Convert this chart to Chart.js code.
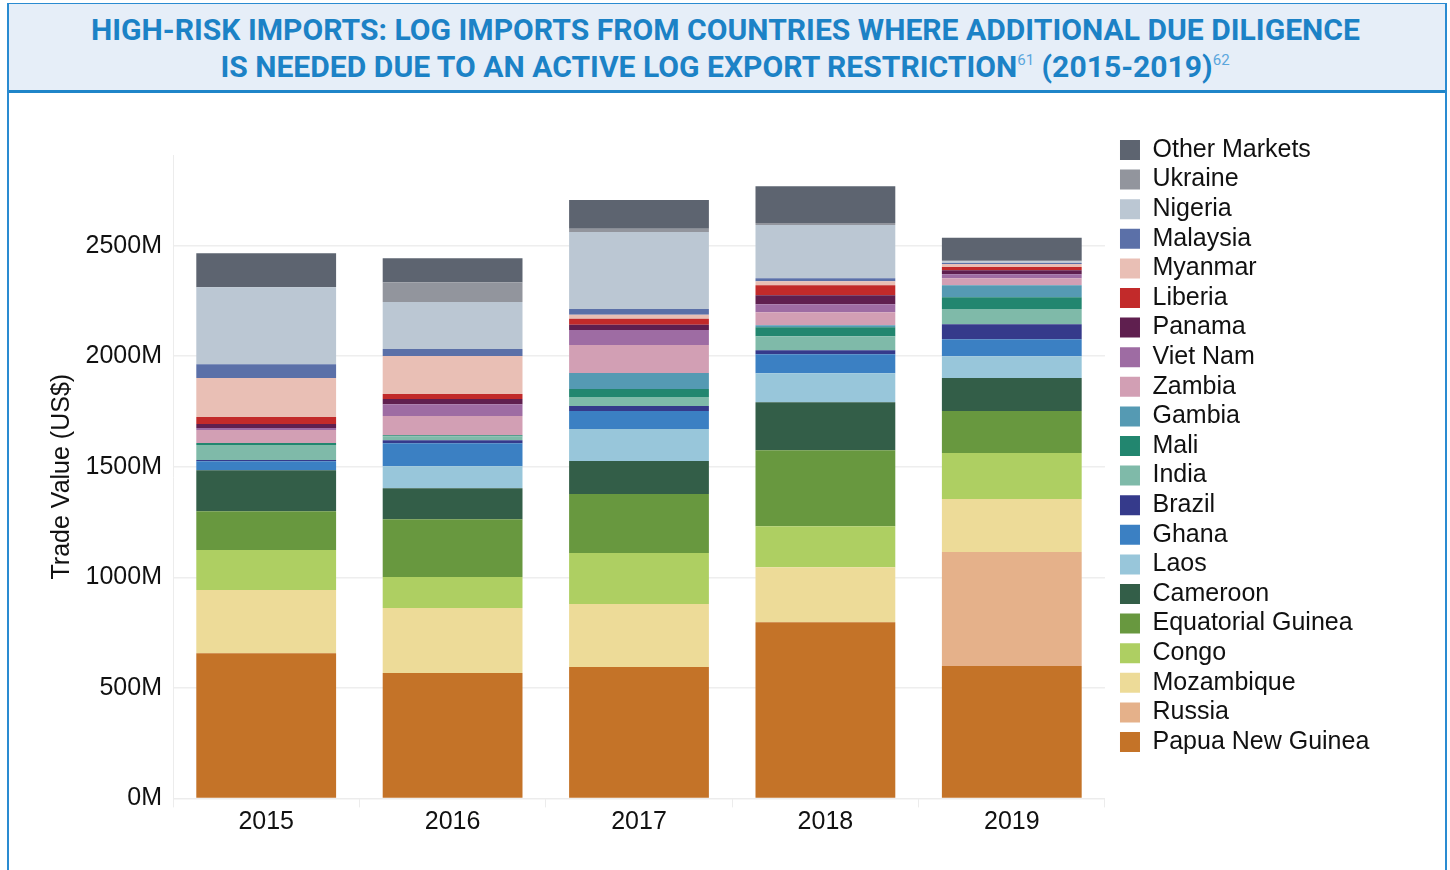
<!DOCTYPE html>
<html>
<head>
<meta charset="utf-8">
<title>High-risk imports</title>
<script src="https://cdn.jsdelivr.net/npm/chart.js@4.4.1/dist/chart.umd.min.js"></script>
<style>
  html, body { margin: 0; padding: 0; background: #fff; }
  body { width: 1450px; height: 870px; position: relative; overflow: hidden; font-family: 'Liberation Sans', Arial, sans-serif; }
  .frame { position: absolute; left: 7px; top: 3px; width: 1436px; height: 880px; border: 2px solid #2a8bd1; border-bottom: none; }
  .banner { position: absolute; left: 9px; top: 4px; width: 1436px; height: 86px; background: #e6eef8; border-bottom: 3px solid #1f85c9; }
  .ttl { position: absolute; left: 0; width: 1450px; text-align: center; font-family: Roboto, sans-serif; font-weight: 700; font-size: 30px; line-height: 36px; color: #1c82c6; white-space: nowrap; }
  .ttl .t { display: inline-block; transform-origin: 50% 50%; }
  .ttl sup { font-size: 15px; font-weight: 400; color: #5ba6dd; vertical-align: 12px; line-height: 0; }
  #wrap { position: absolute; left: 10px; top: 92px; width: 1434px; height: 778px; }
</style>
</head>
<body>
<div class="frame"></div>
<div class="banner"></div>
<div class="ttl" style="top:12px"><span class="t" id="t1">HIGH-RISK IMPORTS: LOG IMPORTS FROM COUNTRIES WHERE ADDITIONAL DUE DILIGENCE</span></div>
<div class="ttl" style="top:49px"><span class="t" id="t2">IS NEEDED DUE TO AN ACTIVE LOG EXPORT RESTRICTION<sup>61</sup> (2015-2019)<sup>62</sup></span></div>
<div id="wrap"><canvas id="chart" width="1434" height="778"></canvas></div>

<script>
// --- Data (US$ millions) ---
const years = ['2015', '2016', '2017', '2018', '2019'];
const yTicks = [0, 500, 1000, 1500, 2000, 2500];
const yMax = 2910;

// stack order: bottom -> top
const papuaNewGuinea = [657, 567, 594, 797, 599];
const russia = [0, 0, 0, 0, 515];
const mozambique = [285, 294, 285, 249, 240];
const congo = [181, 140, 231, 185, 208];
const equatorialGuinea = [176, 262, 267, 344, 190];
const cameroon = [185, 140, 149, 217, 149];
const laos = [0, 99, 145, 131, 99];
const ghana = [41, 104, 81, 86, 77];
const brazil = [5, 14, 23, 18, 68];
const india = [68, 18, 41, 63, 68];
const mali = [9, 5, 36, 41, 54];
const gambia = [0, 0, 72, 9, 54];
const zambia = [59, 86, 127, 59, 32];
const vietNam = [9, 54, 68, 36, 18];
const panama = [18, 23, 23, 41, 18];
const liberia = [32, 23, 27, 45, 14];
const myanmar = [176, 172, 18, 18, 14];
const malaysia = [63, 32, 27, 14, 5];
const nigeria = [348, 212, 348, 240, 7];
const ukraine = [0, 90, 14, 9, 3];
const otherMarkets = [154, 108, 131, 167, 104];

const seriesNames = ['Papua New Guinea', 'Russia', 'Mozambique', 'Congo', 'Equatorial Guinea', 'Cameroon',
    'Laos', 'Ghana', 'Brazil', 'India', 'Mali', 'Gambia', 'Zambia', 'Viet Nam', 'Panama', 'Liberia',
    'Myanmar', 'Malaysia', 'Nigeria', 'Ukraine', 'Other Markets'];
const seriesValues = [papuaNewGuinea, russia, mozambique, congo, equatorialGuinea, cameroon,
    laos, ghana, brazil, india, mali, gambia, zambia, vietNam, panama, liberia,
    myanmar, malaysia, nigeria, ukraine, otherMarkets];

// --- Style ---
const palette = {
    'Papua New Guinea': '#c47328', 'Russia': '#e5b18a', 'Mozambique': '#eddb98', 'Congo': '#aecf62',
    'Equatorial Guinea': '#68983f', 'Cameroon': '#335e48', 'Laos': '#98c6da', 'Ghana': '#3b80c3',
    'Brazil': '#353a8b', 'India': '#7fbaa9', 'Mali': '#22866f', 'Gambia': '#559ab3', 'Zambia': '#d29fb4',
    'Viet Nam': '#9e6ca3', 'Panama': '#5f1f4f', 'Liberia': '#c22a2a', 'Myanmar': '#e9bfb5',
    'Malaysia': '#5b70a8', 'Nigeria': '#bbc7d3', 'Ukraine': '#92959d', 'Other Markets': '#5d6470'
};
const font = { family: "'Liberation Sans', Arial, sans-serif", size: 25 };
const ink = '#111111';
const faint = '#ececec';

// squeeze the title so it looks like the condensed face of the original
const t1 = document.getElementById('t1');
const t2 = document.getElementById('t2');
const k = 1269 / t1.getBoundingClientRect().width;
t1.style.transform = `scaleX(${k})`;
t2.style.transform = `scaleX(${k})`;

const datasets = seriesNames.map((name, i) => ({
    label: name,
    data: seriesValues[i],
    backgroundColor: palette[name],
    borderWidth: 0,
    barPercentage: 0.75,
    categoryPercentage: 1
}));

new Chart(document.getElementById('chart').getContext('2d'), {
    type: 'bar',
    data: { labels: years, datasets: datasets },
    options: {
        responsive: false,
        animation: false,
        layout: { padding: { top: 40.9, right: 64.7, bottom: 32.6, left: 0 } },
        plugins: {
            tooltip: { enabled: false },
            // empty spacer: pushes the plot down while the legend stays at the top
            title: { display: true, text: ' ', fullSize: false, font: { size: 1 }, padding: { top: 0, bottom: 20.9 } },
            legend: {
                position: 'right',
                align: 'start',
                reverse: true,
                maxWidth: 400,
                labels: { boxWidth: 20, boxHeight: 20, padding: 4.6, color: ink, font: font }
            }
        },
        scales: {
            x: {
                stacked: true,
                grid: { offset: true, drawOnChartArea: false, color: faint, tickLength: 9 },
                border: { color: faint },
                ticks: { color: ink, font: font, padding: 0 }
            },
            y: {
                stacked: true,
                min: 0,
                max: yMax,
                afterBuildTicks: s => { s.ticks = yTicks.map(v => ({ value: v })); },
                afterFit: s => { s.width = 163; },
                grid: { color: '#eeeeee', lineWidth: 1.5, drawTicks: false },
                border: { color: faint },
                ticks: { color: ink, font: font, padding: 11, callback: v => v + 'M' },
                title: { display: true, text: 'Trade Value (US$)', color: ink, font: font, padding: { top: 37, bottom: 0 } }
            },
            // blank strip between the plot and the legend
            gap: {
                type: 'linear', axis: 'y', position: 'right', display: true,
                grid: { display: false }, border: { display: false }, ticks: { display: false },
                afterFit: s => { s.width = 10.4; }
            }
        }
    }
});
</script>
</body>
</html>
